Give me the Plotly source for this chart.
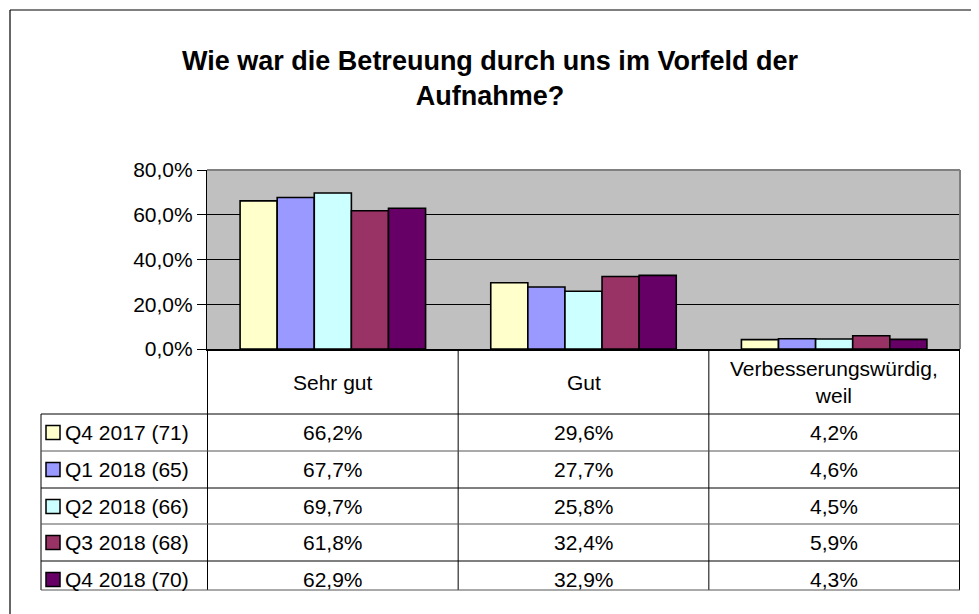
import plotly.graph_objects as go

# ── data ────────────────────────────────────────────────────────────────────
categories = ["Sehr gut", "Gut", "Verbesserungswürdig, weil"]
header_labels = ["Sehr gut", "Gut", "Verbesserungswürdig,<br>weil"]
series_names = ["Q4 2017 (71)", "Q1 2018 (65)", "Q2 2018 (66)", "Q3 2018 (68)", "Q4 2018 (70)"]
q4_2017 = [66.2, 29.6, 4.2]
q1_2018 = [67.7, 27.7, 4.6]
q2_2018 = [69.7, 25.8, 4.5]
q3_2018 = [61.8, 32.4, 5.9]
q4_2018 = [62.9, 32.9, 4.3]
series_values = [q4_2017, q1_2018, q2_2018, q3_2018, q4_2018]
series_colors = ["#FFFFCC", "#9999FF", "#CCFFFF", "#993366", "#660066"]

# ── geometry (window pixels; page body has an 8px margin) ──────────────────
OFF = 8
W, H = 979 - OFF, 614 - OFF
L, R, T, B = 207, 960, 170, 349          # plot area in window pixels
FONT = "Liberation Sans, Arial, sans-serif"
row_lines = [414, 451, 488, 524, 561, 590]
table_left = 41


def xp(px):
    return (px - L) / (R - L)


def yp(py):
    return (B - py) / (B - T)


fig = go.Figure()
for name, vals, col in zip(series_names, series_values, series_colors):
    fig.add_trace(go.Bar(
        x=categories, y=[v / 100 for v in vals], name=name,
        marker=dict(color=col, line=dict(color="black", width=1.6)),
        hoverinfo="y+name", showlegend=False))

shapes = []
# outer chart border (right and bottom edges fall outside the picture)
shapes.append(dict(type="line", xref="paper", yref="paper",
                   x0=xp(10), x1=xp(10), y0=yp(10), y1=yp(620),
                   line=dict(color="black", width=1.2)))
shapes.append(dict(type="line", xref="paper", yref="paper",
                   x0=xp(10), x1=xp(985), y0=yp(10), y1=yp(10),
                   line=dict(color="black", width=1.2)))
# gray top/right plot border
shapes.append(dict(type="line", xref="paper", yref="paper", x0=0, x1=1, y0=1, y1=1,
                   line=dict(color="#808080", width=2)))
shapes.append(dict(type="line", xref="paper", yref="paper", x0=1, x1=1, y0=0, y1=1,
                   line=dict(color="#808080", width=2)))
# table: vertical lines on category boundaries
for b in [-0.5, 0.5, 1.5, 2.5]:
    shapes.append(dict(type="line", xref="x", yref="paper", x0=b, x1=b,
                       y0=yp(B), y1=yp(row_lines[-1]),
                       line=dict(color="black", width=1)))
shapes.append(dict(type="line", xref="paper", yref="paper",
                   x0=xp(table_left), x1=xp(table_left),
                   y0=yp(row_lines[0]), y1=yp(row_lines[-1]),
                   line=dict(color="black", width=1)))
for i, ry in enumerate(row_lines):
    shapes.append(dict(type="line", xref="paper", yref="paper",
                       x0=xp(table_left), x1=1, y0=yp(ry), y1=yp(ry),
                       line=dict(color="black" if i % 2 == 0 else "#555555", width=1)))

annotations = []
txt_font = dict(family=FONT, size=21, color="black")
# header row
for cat, lab in zip(categories, header_labels):
    annotations.append(dict(x=cat, xref="x", y=yp(382), yref="paper", text=lab,
                            showarrow=False, font=txt_font, align="center",
                            xanchor="center", yanchor="middle"))
# data rows + legend keys
for i, (name, vals, col) in enumerate(zip(series_names, series_values, series_colors)):
    cy = row_lines[i] + 18.5
    shapes.append(dict(type="rect", xref="paper", yref="paper",
                       x0=xp(46), x1=xp(60), y0=yp(cy - 7), y1=yp(cy + 7),
                       fillcolor=col, line=dict(color="black", width=1.5)))
    annotations.append(dict(x=xp(63), xref="paper", y=yp(cy), yref="paper",
                            text=name, showarrow=False, xanchor="left",
                            yanchor="middle", font=txt_font))
    for cat, v in zip(categories, vals):
        annotations.append(dict(x=cat, xref="x", y=yp(cy), yref="paper",
                                text=f"{v:.1f}%".replace(".", ","),
                                showarrow=False, xanchor="center",
                                yanchor="middle", font=txt_font))

fig.update_layout(
    width=W, height=H,
    margin=dict(l=L - OFF, r=W - (R - OFF), t=T - OFF, b=H - (B - OFF), pad=0),
    paper_bgcolor="white", plot_bgcolor="#C0C0C0",
    separators=",.",
    barmode="group", bargap=0.26, bargroupgap=0,
    title=dict(text="<b>Wie war die Betreuung durch uns im Vorfeld der<br>Aufnahme?</b>",
               x=(490 - OFF) / W, xanchor="center", y=1 - (70 - OFF) / H, yanchor="middle",
               font=dict(family=FONT, size=27, color="black")),
    font=dict(family=FONT, color="black"),
    xaxis=dict(showticklabels=False, showline=True, linecolor="black", linewidth=1.5,
               ticks="", showgrid=False, fixedrange=True),
    yaxis=dict(range=[0, 0.8], dtick=0.2, tickformat=".1%", ticks="outside",
               ticklen=9, tickcolor="black", showline=True, linecolor="black",
               linewidth=1.2, gridcolor="black", gridwidth=1, zeroline=False,
               tickfont=dict(family=FONT, size=21, color="black")),
    shapes=shapes, annotations=annotations,
)

fig.write_html("out.html")
